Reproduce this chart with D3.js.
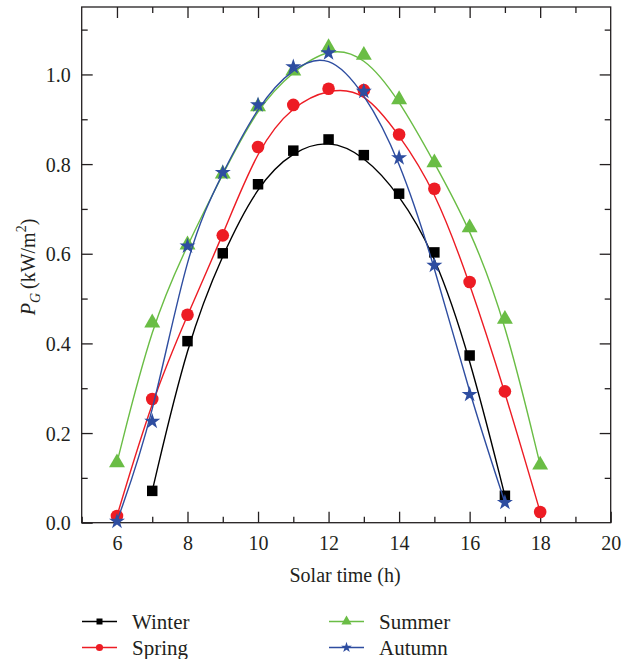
<!DOCTYPE html>
<html>
<head>
<meta charset="utf-8">
<script src="https://cdn.jsdelivr.net/npm/d3@7"></script>
<style>
  html, body { margin: 0; padding: 0; background: #fff; }
  svg { display: block; }
  svg text { font-family: "Liberation Serif", "DejaVu Serif", serif !important; fill: #231f20; }
</style>
</head>
<body>
<svg id="chart" width="638" height="659"></svg>
<script>
// ---- data ----
const winterHours = [7, 8, 9, 10, 11, 12, 13, 14, 15, 16, 17];
const winterValues = [0.071, 0.405, 0.601, 0.755, 0.830, 0.855, 0.820, 0.734, 0.603, 0.373, 0.060];
const springHours = [6, 7, 8, 9, 10, 11, 12, 13, 14, 15, 16, 17, 18];
const springValues = [0.015, 0.276, 0.464, 0.641, 0.838, 0.932, 0.968, 0.965, 0.866, 0.745, 0.537, 0.293, 0.024];
const summerHours = [6, 7, 8, 9, 10, 11, 12, 13, 14, 15, 16, 17, 18];
const summerValues = [0.134, 0.446, 0.620, 0.778, 0.928, 1.008, 1.060, 1.043, 0.944, 0.803, 0.658, 0.454, 0.129];
const autumnHours = [6, 7, 8, 9, 10, 11, 12, 13, 14, 15, 16, 17];
const autumnValues = [0.003, 0.226, 0.617, 0.781, 0.932, 1.017, 1.048, 0.962, 0.814, 0.574, 0.286, 0.045];
const seriesNames = ["Winter", "Spring", "Summer", "Autumn"];
const xTickLabels = [6, 8, 10, 12, 14, 16, 18, 20];
const yTickLabels = [0.0, 0.2, 0.4, 0.6, 0.8, 1.0];
const xMinorTicks = [5, 7, 9, 11, 13, 15, 17, 19];
const yMinorTicks = [0.1, 0.3, 0.5, 0.7, 0.9, 1.1];

const series = [
  { name: seriesNames[0], xs: winterHours, ys: winterValues, color: "#000000", symbol: d3.symbolSquare, size: 110, lsize: 36 },
  { name: seriesNames[1], xs: springHours, ys: springValues, color: "#ed1c24", symbol: d3.symbolCircle, size: 125, lsize: 40 },
  { name: seriesNames[2], xs: summerHours, ys: summerValues, color: "#6abd45", symbol: d3.symbolTriangle, size: 110, lsize: 45 },
  { name: seriesNames[3], xs: autumnHours, ys: autumnValues, color: "#2e4da0", symbol: d3.symbolStar, size: 80, lsize: 36 }
];

const svg = d3.select("#chart");
const L = 81.7, R = 610.7, T = 7, B = 522.7;
const xS = d3.scaleLinear().domain([5, 20]).range([L, R]);
const yS = d3.scaleLinear().domain([0, 1.15]).range([B, T + 0.2]);

const axisColor = "#231f20";
const major = 11, minor = 6;
const FONT = "'Liberation Serif', 'DejaVu Serif', serif";

// frame
svg.append("rect").attr("x", L).attr("y", T).attr("width", R - L).attr("height", B - T)
  .attr("fill", "none").attr("stroke", axisColor).attr("stroke-width", 1.3);

// bottom axis
const axB = d3.axisBottom(xS).tickValues(xTickLabels).tickSizeInner(-major).tickSizeOuter(0).tickFormat(d3.format("d"));
const gB = svg.append("g").attr("transform", `translate(0,${B})`).call(axB);
const axBm = d3.axisBottom(xS).tickValues(xMinorTicks).tickSizeInner(-minor).tickSizeOuter(0).tickFormat("");
const gBm = svg.append("g").attr("transform", `translate(0,${B})`).call(axBm);
// top axis
const axT = d3.axisTop(xS).tickValues(xTickLabels.filter(v => v < 20)).tickSizeInner(-major).tickSizeOuter(0).tickFormat("");
const gT = svg.append("g").attr("transform", `translate(0,${T})`).call(axT);
const axTm = d3.axisTop(xS).tickValues(xMinorTicks.filter(v => v > 5)).tickSizeInner(-minor).tickSizeOuter(0).tickFormat("");
const gTm = svg.append("g").attr("transform", `translate(0,${T})`).call(axTm);
// left axis
const axL = d3.axisLeft(yS).tickValues(yTickLabels).tickSizeInner(-major).tickSizeOuter(0).tickFormat(d3.format(".1f"));
const gL = svg.append("g").attr("transform", `translate(${L},0)`).call(axL);
const axLm = d3.axisLeft(yS).tickValues(yMinorTicks).tickSizeInner(-minor).tickSizeOuter(0).tickFormat("");
const gLm = svg.append("g").attr("transform", `translate(${L},0)`).call(axLm);
// right axis
const axR = d3.axisRight(yS).tickValues(yTickLabels.filter(v => v > 0)).tickSizeInner(-major).tickSizeOuter(0).tickFormat("");
const gR = svg.append("g").attr("transform", `translate(${R},0)`).call(axR);
const axRm = d3.axisRight(yS).tickValues(yMinorTicks).tickSizeInner(-minor).tickSizeOuter(0).tickFormat("");
const gRm = svg.append("g").attr("transform", `translate(${R},0)`).call(axRm);

[gB, gBm, gT, gTm, gL, gLm, gR, gRm].forEach(g => {
  g.attr("font-family", FONT);
  g.select(".domain").remove();
  g.selectAll(".tick line").attr("stroke", axisColor).attr("stroke-width", 1.3);
  g.selectAll(".tick text").attr("font-family", FONT).attr("font-size", 20).attr("fill", axisColor);
});
gB.selectAll(".tick text").attr("y", 13).attr("dy", "0.71em");
gL.selectAll(".tick text").attr("x", -11).attr("dy", "0.35em");

// axis titles
svg.append("text").attr("x", 345).attr("y", 582).attr("font-family", FONT)
  .attr("text-anchor", "middle").attr("font-size", 20).text("Solar time (h)");

const yt = svg.append("text").attr("transform", `translate(35,267) rotate(-90)`)
  .attr("text-anchor", "middle").attr("font-size", 20).attr("font-family", FONT);
yt.append("tspan").attr("font-style", "italic").text("P");
yt.append("tspan").attr("font-style", "italic").attr("font-size", 14).attr("dy", 5).text("G");
yt.append("tspan").attr("dy", -5).text("\u2009(kW/m");
yt.append("tspan").attr("font-size", 14).attr("dy", -9).text("2");
yt.append("tspan").attr("dy", 9).text(")");

// series
const plot = svg.append("g");
series.forEach(s => {
  const pts = s.xs.map((h, i) => [h, s.ys[i]]);
  const line = d3.line().x(d => xS(d[0])).y(d => yS(d[1])).curve(d3.curveBasis);
  plot.append("path").datum(pts).attr("d", line)
    .attr("fill", "none").attr("stroke", s.color).attr("stroke-width", 1.4);
  plot.selectAll(null).data(pts).enter().append("path")
    .attr("d", d3.symbol().type(s.symbol).size(s.size))
    .attr("transform", d => `translate(${xS(d[0])},${yS(d[1])})`)
    .attr("fill", s.color);
});

// legend
const legendPos = [
  { lx: 82, ly: 621.5 }, { lx: 82, ly: 647.5 },
  { lx: 329, ly: 621.5 }, { lx: 329, ly: 647.5 }
];
series.forEach((s, i) => {
  const p = legendPos[i];
  const g = svg.append("g").attr("transform", `translate(${p.lx},${p.ly})`);
  g.append("line").attr("x1", 0).attr("x2", 35).attr("y1", 0).attr("y2", 0)
    .attr("stroke", s.color).attr("stroke-width", 1.4);
  g.append("path").attr("d", d3.symbol().type(s.symbol).size(s.lsize))
    .attr("transform", "translate(17.5,0)").attr("fill", s.color);
  g.append("text").attr("x", 50).attr("y", 0).attr("dy", "0.35em").attr("font-family", FONT)
    .attr("font-size", 21).text(s.name);
});
</script>
</body>
</html>
